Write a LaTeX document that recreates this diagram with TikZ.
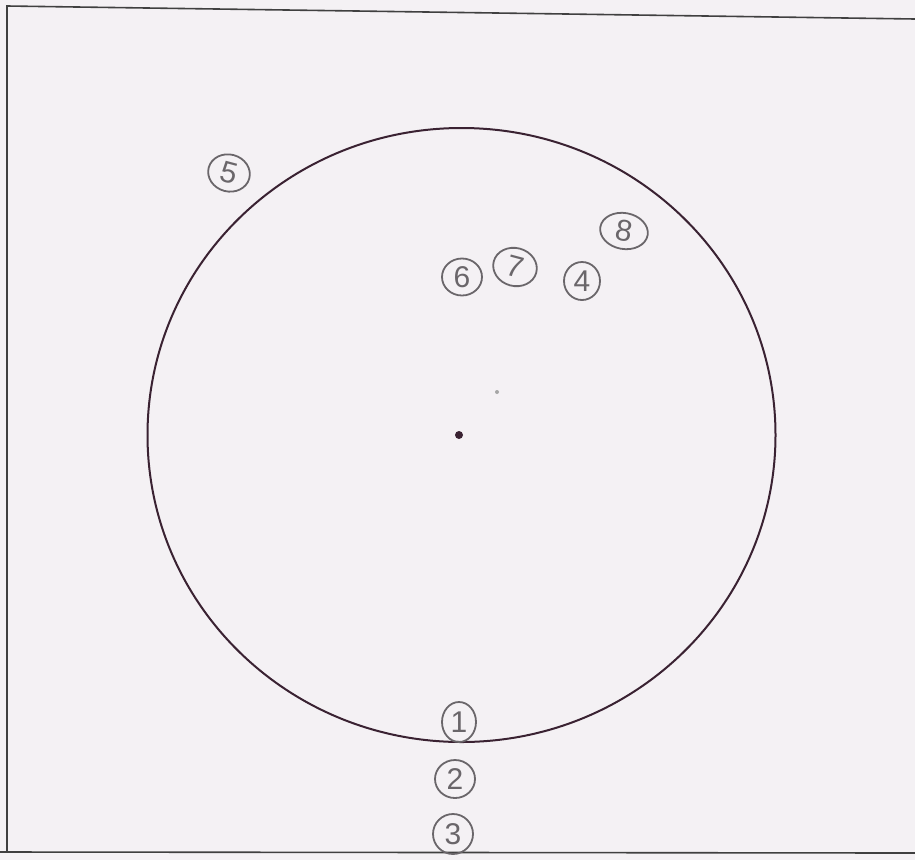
\documentclass[tikz,border=0pt]{standalone}
\usepackage{fontspec}
\setmainfont{Liberation Sans}
\usetikzlibrary{shapes.geometric}
\definecolor{bgc}{HTML}{F4F1F4}
\definecolor{ringc}{HTML}{3A2232}
\definecolor{markc}{HTML}{6A666A}
\tikzset{
  num/.style={ellipse, draw=markc, line width=1.8pt, text=markc, inner sep=0pt,
    font=\fontsize{30}{30}\selectfont},
  frame/.style={draw=black!75, line width=1.6pt}
}
\begin{document}
\begin{tikzpicture}[x=1pt,y=-1pt]
\fill[bgc] (0,0) rectangle (915,860);
\useasboundingbox (0,0) rectangle (915,860);
% frame
\coordinate (ftl) at (7,6);
\coordinate (ftr) at (915,19);
\coordinate (fbl) at (7,852);
\coordinate (fbr) at (915,853);
\draw[frame] (ftr) -- (ftl) -- (fbl);
\draw[frame] (0,852) -- (fbr);
% ring
\node[ellipse, draw=ringc, line width=2pt, minimum width=628, minimum height=614, inner sep=0pt] (ring) at (461.5,435) {};
\node[circle, fill=ringc, inner sep=0pt, minimum size=8pt] (ctr) at (459,435) {};
\node[circle, fill=gray!70, inner sep=0pt, minimum size=4pt] (dot) at (497,392) {};
% labels
\node[num, minimum width=42, minimum height=37, rotate=-15] (n5) at (229,173) {5};
\node[num, minimum width=48, minimum height=36, rotate=-10] (n8) at (624,231) {8};
\node[num, minimum width=40, minimum height=37] (n6) at (462,277) {6};
\node[num, minimum width=44, minimum height=38, rotate=-15] (n7) at (515,267) {7};
\node[num, minimum width=36, minimum height=38] (n4) at (582,281) {4};
\node[num, minimum width=34, minimum height=40] (n1) at (459,722) {1};
\node[num, minimum width=40, minimum height=38] (n2) at (455,779) {2};
\node[num, minimum width=40, minimum height=40] (n3) at (453,834) {3};
\end{tikzpicture}
\end{document}
